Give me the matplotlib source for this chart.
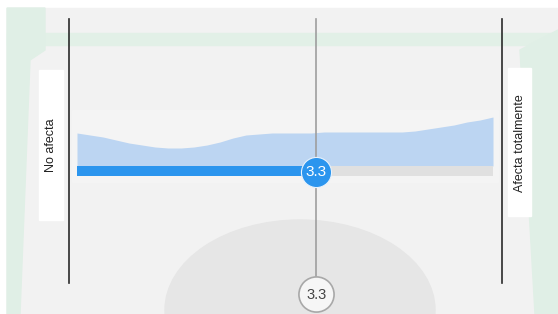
import numpy as np
import matplotlib.pyplot as plt
from matplotlib.patches import Rectangle, Ellipse, Polygon

# slider scale 1..5, answer value and response density
scale_min, scale_max = 1, 5
value = 3.3
dens_x = [1.0, 1.125, 1.25, 1.375, 1.5, 1.625, 1.75, 1.875, 2.0, 2.125, 2.25, 2.375,
          2.5, 2.625, 2.75, 2.875, 3.0, 3.125, 3.25, 3.375, 3.5, 3.625, 3.75, 3.875,
          4.0, 4.125, 4.25, 4.375, 4.5, 4.625, 4.75, 4.875, 5.0]
dens_y = [33, 31, 29, 26, 23, 21, 19, 18, 18, 19, 21, 24,
          28, 31, 32, 33, 33, 33, 33, 34, 34, 34, 34, 34,
          34, 34, 35, 37, 39, 41, 44, 46, 49]
left_label = "No afecta"
right_label = "Afecta totalmente"

plt.rcParams['font.family'] = ['Liberation Sans', 'DejaVu Sans']

W, H = 558, 314
ppu = 104.0  # pixels per scale unit
x0 = scale_min - 77 / ppu

def px(p):
    return x0 + p / ppu

fig = plt.figure(figsize=(W / 100, H / 100), dpi=100)
ax = fig.add_axes([0, 0, 1, 1])
ax.set_xlim(x0, x0 + W / ppu)
ax.set_ylim(H, 0)
ax.axis('off')
fig.patch.set_facecolor('white')

# blurred page background
ax.add_patch(Rectangle((px(7), 8), (W - 7) / ppu, H - 8, color='#f2f2f2', zorder=0))
ax.add_patch(Rectangle((px(7), 33), (W - 7) / ppu, 12, color='#e2f0e7', zorder=0.1))
ax.add_patch(Polygon([(px(7), 8), (px(45), 8), (px(45), 50), (px(30), 60),
                      (px(20), 314), (px(7), 314)], closed=True, color='#e0efe6', zorder=0.1))
ax.add_patch(Polygon([(px(520), 50), (px(558), 30), (px(558), 314), (px(535), 314)],
                     closed=True, color='#e0efe6', zorder=0.1))
ax.add_patch(Ellipse((px(300), 310), 270 / ppu, 180, color='#e6e6e6', zorder=0.2))
ax.add_patch(Rectangle((px(72), 110), 426 / ppu, 72, color='#f4f4f4', zorder=0.3))

# end lines and labels
for p in (69, 502):
    ax.plot([px(p), px(p)], [19, 283], color='#2a2a2a', lw=1.2, zorder=1)
ax.add_patch(Rectangle((px(39), 70), 24 / ppu, 150, color='white', zorder=1))
ax.add_patch(Rectangle((px(508), 68), 23 / ppu, 148, color='white', zorder=1))
ax.text(px(51), 145, left_label, rotation=90, ha='center', va='center', fontsize=9,
        color='#222222', zorder=2)
ax.text(px(520), 143, right_label, rotation=90, ha='center', va='center', fontsize=9,
        color='#222222', zorder=2)

# density area above the track
base = 166
ax.fill_between(dens_x, base - np.array(dens_y), base, color='#bcd5f2', lw=0, zorder=2)

# track
ax.fill_between([scale_min, scale_max], 166, 176, color='#e0e0e0', lw=0, zorder=2.5)
ax.fill_between([scale_min, value], 166, 176, color='#2b95ee', lw=0, zorder=3)

# value line and markers
ax.plot([value, value], [19, 276], color='#9e9e9e', lw=1.2, zorder=3.5)
ax.scatter([value], [171.5], s=470, color='#2b95ee', edgecolors='#e8f2fc', linewidths=0.8, zorder=4)
ax.text(value, 172, f"{value}", ha='center', va='center', fontsize=11, color='white', zorder=5)
ax.scatter([value], [294], s=640, color='#f6f6f6', edgecolors='#a8a8a8', linewidths=1.2, zorder=4)
ax.text(value, 295, f"{value}", ha='center', va='center', fontsize=10.5, color='#444444', zorder=5)

fig.savefig('out.png', dpi=100)
